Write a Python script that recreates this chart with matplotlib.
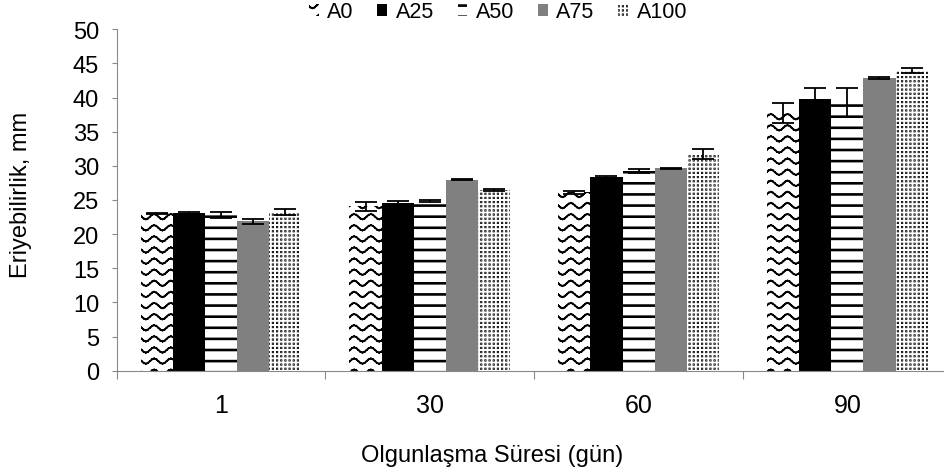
#!/usr/bin/env python3
"""Eriyebilirlik (mm) by ripening time, grouped bars with error bars -> out.png"""

import warnings

import numpy as np
import matplotlib
matplotlib.use("Agg")
import matplotlib.pyplot as plt
import matplotlib.hatch as mhatch
from matplotlib import rcParams
from matplotlib.path import Path

DAYS = ["1", "30", "60", "90"]
SERIES = ["A0", "A25", "A50", "A75", "A100"]

A0 = [23.05, 24.05, 26.1, 37.8]
A25 = [23.15, 24.6, 28.4, 39.8]
A50 = [22.8, 24.85, 29.25, 39.3]
A75 = [21.9, 28.0, 29.65, 42.85]
A100 = [23.25, 26.45, 31.7, 44.0]

A0_ERR = [0.1, 0.73, 0.15, 1.45]
A25_ERR = [0.15, 0.25, 0.15, 1.6]
A50_ERR = [0.37, 0.2, 0.25, 2.15]
A75_ERR = [0.37, 0.1, 0.1, 0.2]
A100_ERR = [0.45, 0.15, 0.73, 0.4]

GRAY = "#898989"

rcParams.update({
    "font.family": ["Liberation Sans", "DejaVu Sans"],
    "hatch.linewidth": 1.3,
    "axes.linewidth": 0.8,
})

warnings.filterwarnings("ignore", message="hatch must consist")


# Excel-like fill patterns as extra hatch types ('~' wave, '=' wide lines, ':' dots).
# Unit square = one hatch tile (1 inch).
class WaveHatch(mhatch.HatchPatternBase):
    rows, cycles, steps, amp = 9, 6, 8, 0.026

    def __init__(self, hatch, density):
        self.num_vertices = self.rows * self.cycles * self.steps * 2 if "~" in hatch else 0

    def set_vertices_and_codes(self, vertices, codes):
        t = np.linspace(0, 1, self.cycles * self.steps + 1)
        wave = self.amp * np.sin(2 * np.pi * self.cycles * t)
        chunks = []
        for r in range(self.rows):
            line = np.column_stack([t, (r + 0.5) / self.rows + wave])
            chunks.append(np.stack([line[:-1], line[1:]], axis=1).reshape(-1, 2))
        vertices[:] = np.concatenate(chunks)
        codes[0::2] = Path.MOVETO
        codes[1::2] = Path.LINETO


class StripeHatch(mhatch.HatchPatternBase):
    rows, half = 9, 0.004

    def __init__(self, hatch, density):
        self.num_vertices = self.rows * 5 if "=" in hatch else 0

    def set_vertices_and_codes(self, vertices, codes):
        h = self.half
        for r in range(self.rows):
            y = (r + 0.5) / self.rows
            vertices[5 * r:5 * r + 5] = [(0, y - h), (1, y - h), (1, y + h), (0, y + h), (0, y - h)]
            codes[5 * r:5 * r + 5] = [Path.MOVETO, Path.LINETO, Path.LINETO, Path.LINETO, Path.CLOSEPOLY]


class DotHatch(mhatch.HatchPatternBase):
    n, half = 24, 0.0018

    def __init__(self, hatch, density):
        self.num_vertices = self.n * self.n * 5 if ":" in hatch else 0

    def set_vertices_and_codes(self, vertices, codes):
        h = self.half
        k = 0
        for i in range(self.n):
            for j in range(self.n):
                cx, cy = (i + 0.5) / self.n, (j + 0.5) / self.n
                vertices[k:k + 5] = [(cx - h, cy - h), (cx + h, cy - h), (cx + h, cy + h),
                                     (cx - h, cy + h), (cx - h, cy - h)]
                codes[k:k + 5] = [Path.MOVETO, Path.LINETO, Path.LINETO, Path.LINETO, Path.CLOSEPOLY]
                k += 5


mhatch._hatch_types.extend([WaveHatch, StripeHatch, DotHatch])


def main():
    fig = plt.figure(figsize=(9.44, 4.77), dpi=100)
    # plot area runs past the right edge, as in the cropped original
    ax = fig.add_axes([116.7 / 944, 1 - 371.7 / 477, 835 / 944, 341.4 / 477])

    x = np.arange(len(DAYS))
    width = 0.154
    styles = [
        (A0, A0_ERR, "white", "~"),
        (A25, A25_ERR, "black", None),
        (A50, A50_ERR, "white", "="),
        (A75, A75_ERR, "#808080", None),
        (A100, A100_ERR, "white", ":"),
    ]
    for i, (name, (vals, errs, face, hatch)) in enumerate(zip(SERIES, styles)):
        pos = x + (i - 2) * width
        ax.bar(pos, vals, width, color=face, edgecolor="black", linewidth=0,
               hatch=hatch, label=name, zorder=2)
        ax.errorbar(pos, vals, yerr=errs, fmt="none", ecolor="black",
                    elinewidth=1.3, capsize=8, capthick=1.3, zorder=3)

    ax.set_xlim(-0.5, 3.5)
    ax.set_ylim(0, 50)
    ax.set_yticks(np.arange(0, 51, 5))
    ax.set_xticks(x, DAYS)
    ax.set_xticks(np.arange(-0.5, 4, 1), minor=True)
    ax.tick_params(axis="x", which="major", length=0, pad=16, labelsize=18)
    ax.tick_params(axis="x", which="minor", length=6, width=0.8, color=GRAY, direction="out")
    ax.tick_params(axis="y", length=3.6, width=0.8, color=GRAY, pad=9, labelsize=17)
    for side in ("top", "right"):
        ax.spines[side].set_visible(False)
    for side in ("left", "bottom"):
        ax.spines[side].set_color(GRAY)

    ax.set_xlabel("Olgunlaşma Süresi (gün)", fontsize=17)
    ax.xaxis.set_label_coords(492 / 944, 1 - 445 / 477, transform=fig.transFigure)
    ax.set_ylabel("Eriyebilirlik, mm", fontsize=17, va="center")
    ax.yaxis.set_label_coords(21 / 944, 1 - 195 / 477, transform=fig.transFigure)

    ax.legend(loc="center", bbox_to_anchor=(498 / 944, 1 - 13 / 477),
              bbox_transform=fig.transFigure, ncol=5, frameon=False, fontsize=15.5,
              handlelength=0.45, handleheight=0.45, handletextpad=0.4,
              columnspacing=1.1, borderaxespad=0, borderpad=0)

    fig.savefig("out.png", dpi=100)
    plt.close(fig)


if __name__ == "__main__":
    main()
